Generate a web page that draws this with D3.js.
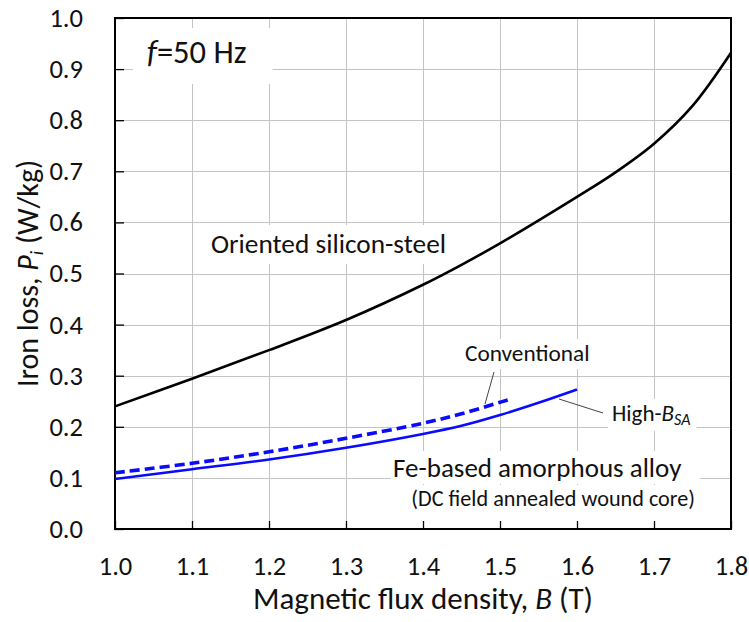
<!DOCTYPE html>
<html><head><meta charset="utf-8">
<script src="https://cdn.jsdelivr.net/npm/d3@7"></script>
<style>
body{margin:0;background:#fff;}
svg{display:block;font-family:Carlito,Calibri,Lato,sans-serif;}
</style></head>
<body><svg id="c" width="749" height="622"></svg>
<script>
// ---- data ----
const siB = [1.0, 1.1, 1.2, 1.3, 1.4, 1.45, 1.5, 1.6, 1.65, 1.7, 1.75, 1.8];
const siP = [0.240, 0.294, 0.350, 0.409, 0.478, 0.517, 0.559, 0.650, 0.698, 0.754, 0.828, 0.932];
const hbB = [1.0, 1.1, 1.2, 1.3, 1.4, 1.45, 1.5, 1.55, 1.6];
const hbP = [0.098, 0.117, 0.136, 0.159, 0.186, 0.202, 0.223, 0.247, 0.273];
const cvB = [1.0, 1.1, 1.2, 1.3, 1.4, 1.45, 1.5, 1.51];
const cvP = [0.110, 0.1285, 0.151, 0.1775, 0.207, 0.2255, 0.248, 0.2525];
const xTicks = [1.0, 1.1, 1.2, 1.3, 1.4, 1.5, 1.6, 1.7, 1.8];
const yTicks = [0.0, 0.1, 0.2, 0.3, 0.4, 0.5, 0.6, 0.7, 0.8, 0.9, 1.0];

const svg = d3.select("#c");
const L = 115, R = 731, T = 18, Bm = 529;
const x = d3.scaleLinear().domain([1.0, 1.8]).range([L, R]);
const y = d3.scaleLinear().domain([0, 1.0]).range([Bm, T]);

// gridlines
const grid = svg.append("g").attr("stroke", "#c4c4c4").attr("stroke-width", 1);
grid.selectAll(".gx").data(xTicks.slice(1, -1)).join("line")
  .attr("x1", d => Math.round(x(d)) + 0.5).attr("x2", d => Math.round(x(d)) + 0.5)
  .attr("y1", T).attr("y2", Bm);
grid.selectAll(".gy").data(yTicks.slice(1, -1)).join("line")
  .attr("y1", d => Math.round(y(d)) + 0.5).attr("y2", d => Math.round(y(d)) + 0.5)
  .attr("x1", L).attr("x2", R);

// annotation text with white boxes
const boxes = svg.append("g");
const texts = svg.append("g").attr("fill", "#111");
function label(tx, ty, parts, size, pad, anchor) {
  const t = texts.append("text").attr("x", tx).attr("y", ty).attr("font-size", size)
    .attr("text-anchor", anchor || "start");
  parts.forEach(p => {
    const s = t.append("tspan").text(p.t);
    if (p.i) s.attr("font-style", "italic");
    if (p.s) s.attr("font-size", p.s);
    if (p.dy) s.attr("dy", p.dy);
  });
  const bb = t.node().getBBox();
  boxes.append("rect").attr("x", bb.x - pad[0]).attr("y", bb.y - pad[1])
    .attr("width", bb.width + pad[0] + pad[2]).attr("height", bb.height + pad[1] + pad[3])
    .attr("fill", "#fff");
  return t;
}
label(147, 63, [{t: "f", i: true}, {t: "=50 Hz"}], 32.5, [14, 4, 26, 12]);
label(211, 253, [{t: "Oriented silicon-steel"}], 27.3, [10, 2, 8, 4]);
label(465, 361, [{t: "Conventional"}], 23.3, [6, 0, 6, 2]);
label(612, 421, [{t: "High-"}, {t: "B", i: true}, {t: "SA", i: true, s: 16, dy: 4}], 23, [4, 0, 6, 2]);
label(393, 477, [{t: "Fe-based amorphous alloy"}], 27, [2, 0, 18, 0]);
label(695, 506, [{t: "(DC field annealed wound core)"}], 22.2, [0, 0, 0, 30], "end");

// leader lines
const lead = svg.append("g").attr("stroke", "#444").attr("stroke-width", 1);
lead.append("line").attr("x1", 494).attr("y1", 372).attr("x2", 485).attr("y2", 404);
lead.append("line").attr("x1", 559).attr("y1", 399).attr("x2", 603).attr("y2", 413);

// frame
svg.append("rect").attr("x", L).attr("y", T).attr("width", R - L).attr("height", Bm - T)
  .attr("fill", "none").attr("stroke", "#000").attr("stroke-width", 2);

// axes (inward ticks)
const xAxis = d3.axisBottom(x).tickValues(xTicks).tickSize(-8).tickPadding(27)
  .tickFormat(d3.format(".1f"));
const gx = svg.append("g").attr("transform", `translate(0,${Bm})`).call(xAxis);
const yAxis = d3.axisLeft(y).tickValues(yTicks).tickSize(-9).tickPadding(32)
  .tickFormat(d3.format(".1f"));
const gy = svg.append("g").attr("transform", `translate(${L},0)`).call(yAxis);
[gx, gy].forEach(g => {
  g.select(".domain").remove();
  g.selectAll(".tick line").attr("stroke", "#000").attr("stroke-width", 1.3);
  g.selectAll("text").attr("font-size", 26.5).attr("fill", "#111")
    .attr("font-family", "Carlito,Calibri,Lato,sans-serif");
});
gy.selectAll("text").attr("text-anchor", "end");

// curves
const line = d3.line().x(d => x(d[0])).y(d => y(d[1])).curve(d3.curveCatmullRom.alpha(0.5));
svg.append("path").datum(d3.zip(siB, siP)).attr("d", line)
  .attr("fill", "none").attr("stroke", "#000").attr("stroke-width", 2.6);
svg.append("path").datum(d3.zip(hbB, hbP)).attr("d", line)
  .attr("fill", "none").attr("stroke", "#0a0aff").attr("stroke-width", 2.6);
svg.append("path").datum(d3.zip(cvB, cvP)).attr("d", line)
  .attr("fill", "none").attr("stroke", "#0a0aff").attr("stroke-width", 3.6)
  .attr("stroke-dasharray", "10,5");

// axis titles
svg.append("text").attr("x", (L + R) / 2).attr("y", 609).attr("text-anchor", "middle")
  .attr("font-size", 31).attr("fill", "#111")
  .call(t => {
    t.append("tspan").text("Magnetic flux density, ");
    t.append("tspan").text("B").attr("font-style", "italic");
    t.append("tspan").text(" (T)");
  });
svg.append("text").attr("transform", `translate(38,${(T + Bm) / 2}) rotate(-90)`)
  .attr("text-anchor", "middle").attr("font-size", 30).attr("fill", "#111")
  .call(t => {
    t.append("tspan").text("Iron loss, ");
    t.append("tspan").text("P").attr("font-style", "italic");
    t.append("tspan").text("i").attr("font-style", "italic").attr("font-size", 19).attr("dy", 5);
    t.append("tspan").text(" (W/kg)").attr("dy", -5);
  });
</script></body></html>
